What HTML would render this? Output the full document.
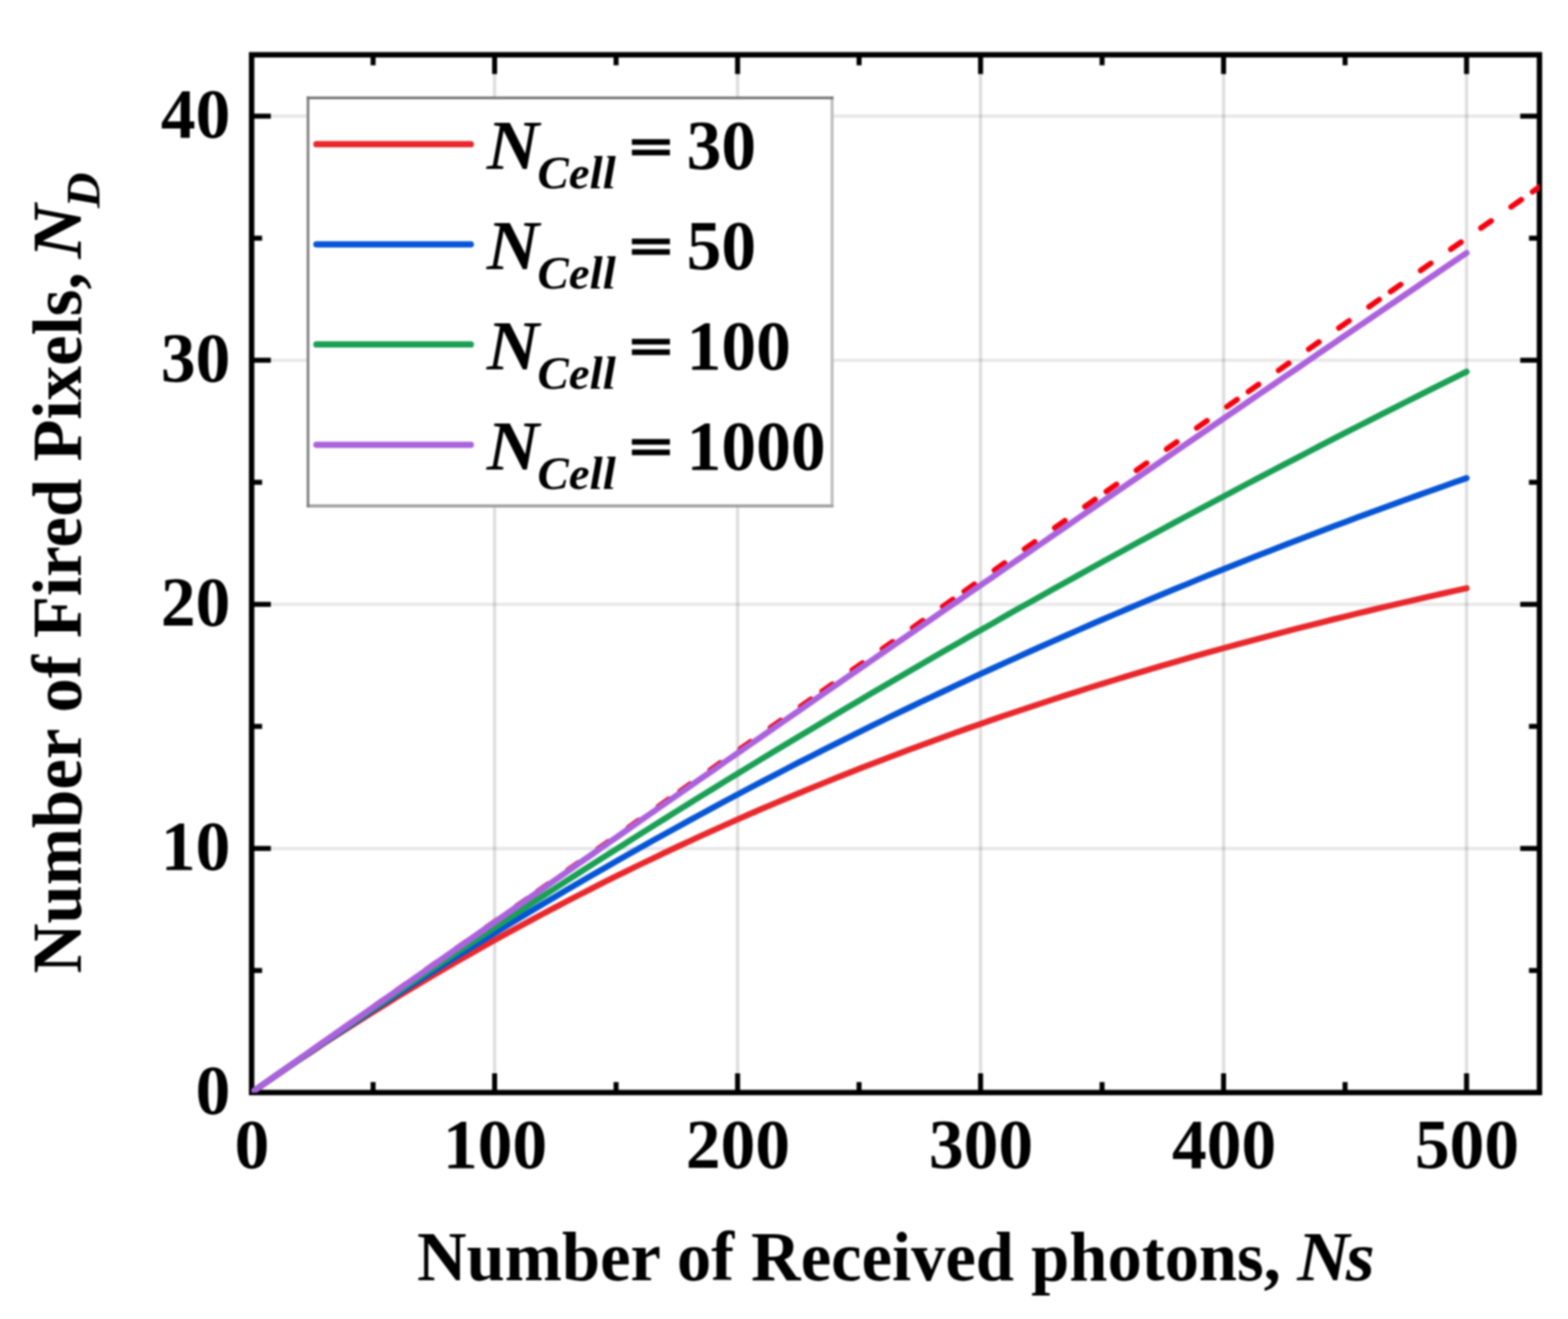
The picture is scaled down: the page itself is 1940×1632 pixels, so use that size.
<!DOCTYPE html>
<html lang="en"><head><meta charset="utf-8"><title>Number of Fired Pixels vs Number of Received photons</title>
<style>
html,body{margin:0;padding:0;background:#fff;}
body{width:1940px;height:1632px;overflow:hidden;}
svg{display:block;filter:blur(1px);}
text{font-family:"Liberation Serif","DejaVu Serif",serif;font-weight:bold;fill:#000;}
.it{font-style:italic;}
</style></head><body>
<svg role="img" aria-label="Line chart: number of fired pixels versus number of received photons" width="1940" height="1632" viewBox="0 0 1940 1632">
<rect x="0" y="0" width="1940" height="1632" fill="#ffffff"/>
<defs><clipPath id="plotclip"><rect x="311.30" y="67.80" width="1593.40" height="1284.00"/></clipPath></defs>
<g id="grid" stroke="#000" stroke-width="4.2" fill="none">
<line x1="611.94" y1="67.80" x2="611.94" y2="1351.80" stroke-opacity="0.125"/>
<line x1="912.58" y1="67.80" x2="912.58" y2="1351.80" stroke-opacity="0.125"/>
<line x1="1213.22" y1="67.80" x2="1213.22" y2="1351.80" stroke-opacity="0.125"/>
<line x1="1513.86" y1="67.80" x2="1513.86" y2="1351.80" stroke-opacity="0.125"/>
<line x1="1814.50" y1="67.80" x2="1814.50" y2="1351.80" stroke-opacity="0.125"/>
<line x1="311.30" y1="1049.78" x2="1904.70" y2="1049.78" stroke-opacity="0.09"/>
<line x1="311.30" y1="747.75" x2="1904.70" y2="747.75" stroke-opacity="0.09"/>
<line x1="311.30" y1="445.73" x2="1904.70" y2="445.73" stroke-opacity="0.09"/>
<line x1="311.30" y1="143.70" x2="1904.70" y2="143.70" stroke-opacity="0.09"/>
</g>
<g id="ticks" stroke="#000" stroke-width="6.2" fill="none">
<line x1="461.62" y1="1351.80" x2="461.62" y2="1338.80"/>
<line x1="461.62" y1="67.80" x2="461.62" y2="80.80"/>
<line x1="611.94" y1="1351.80" x2="611.94" y2="1328.00"/>
<line x1="611.94" y1="67.80" x2="611.94" y2="91.60"/>
<line x1="762.26" y1="1351.80" x2="762.26" y2="1338.80"/>
<line x1="762.26" y1="67.80" x2="762.26" y2="80.80"/>
<line x1="912.58" y1="1351.80" x2="912.58" y2="1328.00"/>
<line x1="912.58" y1="67.80" x2="912.58" y2="91.60"/>
<line x1="1062.90" y1="1351.80" x2="1062.90" y2="1338.80"/>
<line x1="1062.90" y1="67.80" x2="1062.90" y2="80.80"/>
<line x1="1213.22" y1="1351.80" x2="1213.22" y2="1328.00"/>
<line x1="1213.22" y1="67.80" x2="1213.22" y2="91.60"/>
<line x1="1363.54" y1="1351.80" x2="1363.54" y2="1338.80"/>
<line x1="1363.54" y1="67.80" x2="1363.54" y2="80.80"/>
<line x1="1513.86" y1="1351.80" x2="1513.86" y2="1328.00"/>
<line x1="1513.86" y1="67.80" x2="1513.86" y2="91.60"/>
<line x1="1664.18" y1="1351.80" x2="1664.18" y2="1338.80"/>
<line x1="1664.18" y1="67.80" x2="1664.18" y2="80.80"/>
<line x1="1814.50" y1="1351.80" x2="1814.50" y2="1328.00"/>
<line x1="1814.50" y1="67.80" x2="1814.50" y2="91.60"/>
<line x1="311.30" y1="1200.79" x2="324.30" y2="1200.79"/>
<line x1="1904.70" y1="1200.79" x2="1891.70" y2="1200.79"/>
<line x1="311.30" y1="1049.78" x2="335.10" y2="1049.78"/>
<line x1="1904.70" y1="1049.78" x2="1880.90" y2="1049.78"/>
<line x1="311.30" y1="898.76" x2="324.30" y2="898.76"/>
<line x1="1904.70" y1="898.76" x2="1891.70" y2="898.76"/>
<line x1="311.30" y1="747.75" x2="335.10" y2="747.75"/>
<line x1="1904.70" y1="747.75" x2="1880.90" y2="747.75"/>
<line x1="311.30" y1="596.74" x2="324.30" y2="596.74"/>
<line x1="1904.70" y1="596.74" x2="1891.70" y2="596.74"/>
<line x1="311.30" y1="445.73" x2="335.10" y2="445.73"/>
<line x1="1904.70" y1="445.73" x2="1880.90" y2="445.73"/>
<line x1="311.30" y1="294.71" x2="324.30" y2="294.71"/>
<line x1="1904.70" y1="294.71" x2="1891.70" y2="294.71"/>
<line x1="311.30" y1="143.70" x2="335.10" y2="143.70"/>
<line x1="1904.70" y1="143.70" x2="1880.90" y2="143.70"/>
</g>
<rect id="frame" x="311.30" y="67.80" width="1593.40" height="1284.00" fill="none" stroke="#000" stroke-width="6.7"/>
<g id="curves" fill="none" stroke-linejoin="round" clip-path="url(#plotclip)">
<path d="M311.30 1351.80 L487.10 1228.17 M487.10 1228.17 L662.90 1104.55 M662.90 1104.55 L838.70 980.92 M838.70 980.92 L1014.50 857.29 M1014.50 857.29 L1190.30 733.67 M1190.30 733.67 L1366.10 610.04 M1366.10 610.04 L1541.90 486.41 M1541.90 486.41 L1717.70 362.78 M1717.70 362.78 L1893.50 239.16 M1893.50 239.16 L1909.70 227.77" stroke="#f6000e" stroke-width="6.9" stroke-dasharray="15.4 30.2" stroke-dashoffset="-3.3" stroke-linecap="round"/>
<polyline points="311.3,1351.8 326.3,1341.3 341.4,1330.9 356.4,1320.6 371.4,1310.5 386.5,1300.5 401.5,1290.5 416.5,1280.7 431.6,1271.1 446.6,1261.5 461.6,1252.0 476.7,1242.7 491.7,1233.4 506.7,1224.3 521.7,1215.3 536.8,1206.3 551.8,1197.5 566.8,1188.8 581.9,1180.2 596.9,1171.7 611.9,1163.2 627.0,1154.9 642.0,1146.7 657.0,1138.6 672.1,1130.5 687.1,1122.6 702.1,1114.7 717.2,1107.0 732.2,1099.3 747.2,1091.7 762.3,1084.2 777.3,1076.8 792.3,1069.5 807.4,1062.3 822.4,1055.1 837.4,1048.0 852.5,1041.1 867.5,1034.2 882.5,1027.3 897.5,1020.6 912.6,1013.9 927.6,1007.3 942.6,1000.8 957.7,994.4 972.7,988.0 987.7,981.7 1002.8,975.5 1017.8,969.4 1032.8,963.3 1047.9,957.3 1062.9,951.3 1077.9,945.5 1093.0,939.7 1108.0,934.0 1123.0,928.3 1138.1,922.7 1153.1,917.2 1168.1,911.7 1183.2,906.3 1198.2,900.9 1213.2,895.7 1228.3,890.4 1243.3,885.3 1258.3,880.2 1273.3,875.2 1288.4,870.2 1303.4,865.2 1318.4,860.4 1333.5,855.6 1348.5,850.8 1363.5,846.1 1378.6,841.5 1393.6,836.9 1408.6,832.4 1423.7,827.9 1438.7,823.4 1453.7,819.1 1468.8,814.7 1483.8,810.4 1498.8,806.2 1513.9,802.0 1528.9,797.9 1543.9,793.8 1559.0,789.8 1574.0,785.8 1589.0,781.8 1604.1,777.9 1619.1,774.1 1634.1,770.3 1649.1,766.5 1664.2,762.8 1679.2,759.1 1694.2,755.5 1709.3,751.9 1724.3,748.3 1739.3,744.8 1754.4,741.4 1769.4,737.9 1784.4,734.5 1799.5,731.2 1814.5,727.9" stroke="#e9282c" stroke-width="7.5" stroke-linecap="round"/>
<polyline points="311.3,1351.8 326.3,1341.3 341.4,1330.8 356.4,1320.4 371.4,1310.1 386.5,1299.9 401.5,1289.7 416.5,1279.6 431.6,1269.6 446.6,1259.6 461.6,1249.7 476.7,1239.9 491.7,1230.1 506.7,1220.4 521.7,1210.8 536.8,1201.3 551.8,1191.8 566.8,1182.4 581.9,1173.0 596.9,1163.7 611.9,1154.5 627.0,1145.4 642.0,1136.3 657.0,1127.2 672.1,1118.3 687.1,1109.4 702.1,1100.5 717.2,1091.7 732.2,1083.0 747.2,1074.4 762.3,1065.8 777.3,1057.2 792.3,1048.7 807.4,1040.3 822.4,1032.0 837.4,1023.7 852.5,1015.4 867.5,1007.2 882.5,999.1 897.5,991.0 912.6,983.0 927.6,975.0 942.6,967.1 957.7,959.3 972.7,951.5 987.7,943.7 1002.8,936.1 1017.8,928.4 1032.8,920.8 1047.9,913.3 1062.9,905.8 1077.9,898.4 1093.0,891.0 1108.0,883.7 1123.0,876.5 1138.1,869.2 1153.1,862.1 1168.1,855.0 1183.2,847.9 1198.2,840.9 1213.2,833.9 1228.3,827.0 1243.3,820.1 1258.3,813.3 1273.3,806.5 1288.4,799.8 1303.4,793.1 1318.4,786.5 1333.5,779.9 1348.5,773.3 1363.5,766.8 1378.6,760.4 1393.6,754.0 1408.6,747.6 1423.7,741.3 1438.7,735.0 1453.7,728.8 1468.8,722.6 1483.8,716.4 1498.8,710.3 1513.9,704.3 1528.9,698.3 1543.9,692.3 1559.0,686.3 1574.0,680.5 1589.0,674.6 1604.1,668.8 1619.1,663.0 1634.1,657.3 1649.1,651.6 1664.2,646.0 1679.2,640.3 1694.2,634.8 1709.3,629.2 1724.3,623.7 1739.3,618.3 1754.4,612.9 1769.4,607.5 1784.4,602.2 1799.5,596.8 1814.5,591.6" stroke="#0655d6" stroke-width="7.5" stroke-linecap="round"/>
<polyline points="311.3,1351.8 326.3,1341.2 341.4,1330.7 356.4,1320.3 371.4,1309.8 386.5,1299.4 401.5,1289.0 416.5,1278.7 431.6,1268.4 446.6,1258.1 461.6,1247.9 476.7,1237.7 491.7,1227.6 506.7,1217.5 521.7,1207.4 536.8,1197.3 551.8,1187.3 566.8,1177.3 581.9,1167.4 596.9,1157.5 611.9,1147.6 627.0,1137.8 642.0,1128.0 657.0,1118.2 672.1,1108.5 687.1,1098.8 702.1,1089.1 717.2,1079.5 732.2,1069.9 747.2,1060.3 762.3,1050.8 777.3,1041.3 792.3,1031.8 807.4,1022.4 822.4,1013.0 837.4,1003.6 852.5,994.2 867.5,984.9 882.5,975.7 897.5,966.4 912.6,957.2 927.6,948.1 942.6,938.9 957.7,929.8 972.7,920.7 987.7,911.7 1002.8,902.7 1017.8,893.7 1032.8,884.7 1047.9,875.8 1062.9,866.9 1077.9,858.1 1093.0,849.2 1108.0,840.4 1123.0,831.7 1138.1,822.9 1153.1,814.2 1168.1,805.6 1183.2,796.9 1198.2,788.3 1213.2,779.7 1228.3,771.2 1243.3,762.6 1258.3,754.1 1273.3,745.7 1288.4,737.2 1303.4,728.8 1318.4,720.5 1333.5,712.1 1348.5,703.8 1363.5,695.5 1378.6,687.3 1393.6,679.0 1408.6,670.8 1423.7,662.6 1438.7,654.5 1453.7,646.4 1468.8,638.3 1483.8,630.2 1498.8,622.2 1513.9,614.2 1528.9,606.2 1543.9,598.3 1559.0,590.4 1574.0,582.5 1589.0,574.6 1604.1,566.8 1619.1,559.0 1634.1,551.2 1649.1,543.4 1664.2,535.7 1679.2,528.0 1694.2,520.3 1709.3,512.7 1724.3,505.1 1739.3,497.5 1754.4,489.9 1769.4,482.3 1784.4,474.8 1799.5,467.3 1814.5,459.9" stroke="#1aa054" stroke-width="7.5" stroke-linecap="round"/>
<polyline points="311.3,1351.8 326.3,1341.2 341.4,1330.7 356.4,1320.1 371.4,1309.5 386.5,1299.0 401.5,1288.4 416.5,1277.9 431.6,1267.4 446.6,1256.8 461.6,1246.3 476.7,1235.7 491.7,1225.2 506.7,1214.7 521.7,1204.2 536.8,1193.7 551.8,1183.1 566.8,1172.6 581.9,1162.1 596.9,1151.6 611.9,1141.1 627.0,1130.6 642.0,1120.1 657.0,1109.6 672.1,1099.2 687.1,1088.7 702.1,1078.2 717.2,1067.7 732.2,1057.3 747.2,1046.8 762.3,1036.3 777.3,1025.9 792.3,1015.4 807.4,1005.0 822.4,994.5 837.4,984.1 852.5,973.6 867.5,963.2 882.5,952.8 897.5,942.3 912.6,931.9 927.6,921.5 942.6,911.1 957.7,900.7 972.7,890.2 987.7,879.8 1002.8,869.4 1017.8,859.0 1032.8,848.6 1047.9,838.2 1062.9,827.9 1077.9,817.5 1093.0,807.1 1108.0,796.7 1123.0,786.3 1138.1,776.0 1153.1,765.6 1168.1,755.2 1183.2,744.9 1198.2,734.5 1213.2,724.2 1228.3,713.8 1243.3,703.5 1258.3,693.1 1273.3,682.8 1288.4,672.5 1303.4,662.1 1318.4,651.8 1333.5,641.5 1348.5,631.1 1363.5,620.8 1378.6,610.5 1393.6,600.2 1408.6,589.9 1423.7,579.6 1438.7,569.3 1453.7,559.0 1468.8,548.7 1483.8,538.4 1498.8,528.1 1513.9,517.9 1528.9,507.6 1543.9,497.3 1559.0,487.0 1574.0,476.8 1589.0,466.5 1604.1,456.3 1619.1,446.0 1634.1,435.7 1649.1,425.5 1664.2,415.2 1679.2,405.0 1694.2,394.8 1709.3,384.5 1724.3,374.3 1739.3,364.1 1754.4,353.9 1769.4,343.6 1784.4,333.4 1799.5,323.2 1814.5,313.0" stroke="#ab62dc" stroke-width="7.5" stroke-linecap="round"/>
</g>
<g id="xticklabels" font-size="86" text-anchor="middle">
<text x="311.8" y="1445.2">0</text>
<text x="612.4" y="1445.2">100</text>
<text x="913.1" y="1445.2">200</text>
<text x="1213.7" y="1445.2">300</text>
<text x="1514.4" y="1445.2">400</text>
<text x="1815.0" y="1445.2">500</text>
</g>
<g id="yticklabels" font-size="86" text-anchor="end">
<text x="285.0" y="1378.3">0</text>
<text x="285.0" y="1076.3">10</text>
<text x="285.0" y="774.2">20</text>
<text x="285.0" y="472.2">30</text>
<text x="285.0" y="170.2">40</text>
</g>
<text id="xlabel" transform="translate(516.0,1584) scale(0.987,1)" font-size="86">Number of Received photons,</text>
<text transform="translate(1637.3,1584) scale(1.042,1)" font-size="86" class="it" text-anchor="middle">N</text>
<text transform="translate(1683.0,1584) scale(1.066,1)" font-size="86" class="it" text-anchor="middle">s</text>
<text id="ylabel" transform="translate(100,1204.2) rotate(-90) scale(0.9905,1)" font-size="86">Number of Fired Pixels,</text>
<text transform="translate(100,286.3) rotate(-90) scale(1.084,1)" font-size="86" class="it" text-anchor="middle">N</text>
<text transform="translate(122.7,235.2) rotate(-90) scale(1.03,1)" font-size="59" class="it" text-anchor="middle">D</text>
<g id="legend">
<rect x="381.1" y="121.1" width="648.4" height="504.8" fill="#fff"/>
<line x1="1029.5" y1="119.5" x2="1029.5" y2="627.8" stroke="#bcbcbc" stroke-width="3.6"/>
<line x1="379.5" y1="625.9" x2="1031.3" y2="625.9" stroke="#a4a4a4" stroke-width="4"/>
<line x1="381.1" y1="119.5" x2="381.1" y2="627.8" stroke="#7c7c7c" stroke-width="3.2"/>
<line x1="379.5" y1="121.1" x2="1031.3" y2="121.1" stroke="#727272" stroke-width="3.2"/>
<line x1="391.5" y1="178.4" x2="582.5" y2="178.4" stroke="#e9282c" stroke-width="7.8" stroke-linecap="round"/>
<text transform="translate(602.3,209.1) scale(1.045,1)" font-size="86" class="it">N</text>
<text x="665.1" y="233.1" font-size="58" class="it">Cell</text>
<text transform="translate(832.5,203.5) scale(1.095,0.77)" font-size="86" text-anchor="end" stroke="#000" stroke-width="3" stroke-linejoin="miter">=</text>
<text x="849.5" y="209.1" font-size="86">30</text>
<line x1="391.5" y1="302.3" x2="582.5" y2="302.3" stroke="#0655d6" stroke-width="7.8" stroke-linecap="round"/>
<text transform="translate(602.3,333.0) scale(1.045,1)" font-size="86" class="it">N</text>
<text x="665.1" y="357.0" font-size="58" class="it">Cell</text>
<text transform="translate(832.5,327.4) scale(1.095,0.77)" font-size="86" text-anchor="end" stroke="#000" stroke-width="3" stroke-linejoin="miter">=</text>
<text x="849.5" y="333.0" font-size="86">50</text>
<line x1="391.5" y1="426.2" x2="582.5" y2="426.2" stroke="#1aa054" stroke-width="7.8" stroke-linecap="round"/>
<text transform="translate(602.3,456.9) scale(1.045,1)" font-size="86" class="it">N</text>
<text x="665.1" y="480.9" font-size="58" class="it">Cell</text>
<text transform="translate(832.5,451.3) scale(1.095,0.77)" font-size="86" text-anchor="end" stroke="#000" stroke-width="3" stroke-linejoin="miter">=</text>
<text x="849.5" y="456.9" font-size="86">100</text>
<line x1="391.5" y1="550.3" x2="582.5" y2="550.3" stroke="#ab62dc" stroke-width="7.8" stroke-linecap="round"/>
<text transform="translate(602.3,581.0) scale(1.045,1)" font-size="86" class="it">N</text>
<text x="665.1" y="605.0" font-size="58" class="it">Cell</text>
<text transform="translate(832.5,575.4) scale(1.095,0.77)" font-size="86" text-anchor="end" stroke="#000" stroke-width="3" stroke-linejoin="miter">=</text>
<text x="849.5" y="581.0" font-size="86">1000</text>
</g>
</svg>
</body></html>
